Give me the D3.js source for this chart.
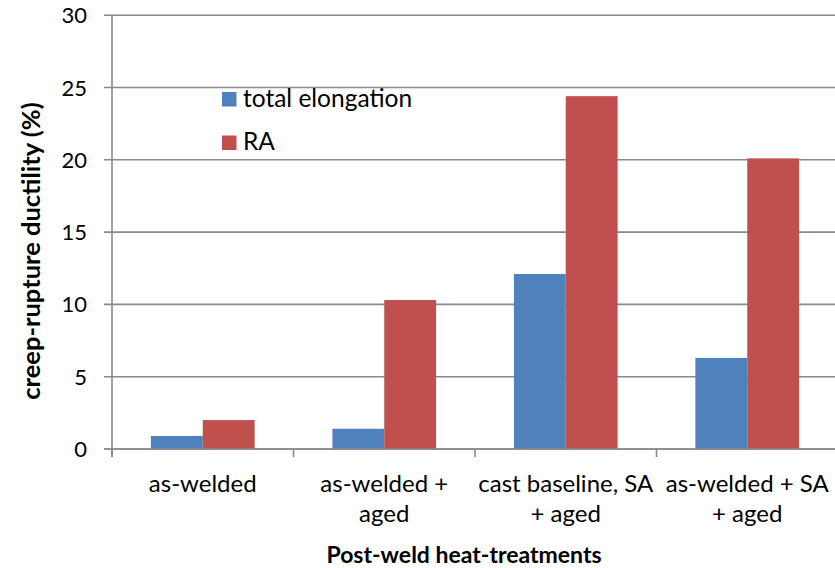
<!DOCTYPE html>
<meta charset="utf-8">
<head>
<style>
body { margin: 0; background: #fff; }
text { font-family: Lato, "Open Sans", sans-serif; fill: #000; }
</style>
<script src="https://d3js.org/d3.v7.min.js"></script>
</head>
<body>
<div id="chart"></div>
<script>
var categories = ["as-welded", "as-welded +\naged", "cast baseline, SA\n+ aged", "as-welded + SA\n+ aged"];
var seriesNames = ["total elongation", "RA"];
var elongation = [0.9, 1.4, 12.1, 6.3];
var reductionArea = [2.0, 10.3, 24.4, 20.1];
var yTicks = [0, 5, 10, 15, 20, 25, 30];
var colors = ["#4F81BD", "#C0504D"];

var width = 835,
    height = 568,
    plotLeft = 112,
    plotRight = 838,
    plotTop = 15.2,
    plotBottom = 449;

var svg = d3.select("#chart").append("svg")
    .attr("width", width)
    .attr("height", height);

var y = d3.scaleLinear().domain([0, 30]).range([plotBottom, plotTop]);
var x0 = d3.scaleBand().domain(categories).range([plotLeft, plotRight]);
var x1 = d3.scaleBand().domain(seriesNames).range([0, x0.bandwidth()]).paddingOuter(0.75);

// gridlines
svg.append("g")
    .selectAll("line")
    .data(yTicks)
    .enter().append("line")
    .attr("x1", plotLeft - 8)
    .attr("x2", plotRight)
    .attr("y1", function(d) { return y(d); })
    .attr("y2", function(d) { return y(d); })
    .attr("stroke", "#8a8a8a")
    .attr("stroke-width", 1.6);

// bars
var rows = categories.map(function(c, i) {
  return [elongation[i], reductionArea[i]];
});
var groups = svg.append("g")
    .selectAll("g")
    .data(rows)
    .enter().append("g")
    .attr("transform", function(d, i) { return "translate(" + x0(categories[i]) + ",0)"; });
groups.selectAll("rect")
    .data(function(d) { return d; })
    .enter().append("rect")
    .attr("x", function(d, j) { return x1(seriesNames[j]); })
    .attr("width", x1.bandwidth())
    .attr("y", function(d) { return y(d); })
    .attr("height", function(d) { return y(0) - y(d); })
    .attr("fill", function(d, j) { return colors[j]; });

// y axis line + x axis line
svg.append("line")
    .attr("x1", plotLeft).attr("x2", plotLeft)
    .attr("y1", plotTop).attr("y2", plotBottom + 8)
    .attr("stroke", "#8a8a8a").attr("stroke-width", 1.6);
svg.append("line")
    .attr("x1", plotLeft - 8).attr("x2", plotRight)
    .attr("y1", plotBottom).attr("y2", plotBottom)
    .attr("stroke", "#8a8a8a").attr("stroke-width", 1.6);

// category ticks
svg.append("g")
    .selectAll("line")
    .data(categories)
    .enter().append("line")
    .attr("x1", function(d) { return x0(d); })
    .attr("x2", function(d) { return x0(d); })
    .attr("y1", plotBottom)
    .attr("y2", plotBottom + 8)
    .attr("stroke", "#8a8a8a").attr("stroke-width", 1.6);

// y tick labels
svg.append("g")
    .selectAll("text")
    .data(yTicks)
    .enter().append("text")
    .attr("x", 87)
    .attr("y", function(d) { return y(d) + 8; })
    .attr("text-anchor", "end")
    .style("font-size", "22px")
    .text(function(d) { return d; });

// category labels
var catLabels = svg.append("g")
    .selectAll("text")
    .data(categories)
    .enter().append("text")
    .attr("text-anchor", "middle")
    .style("font-size", "24px")
    .attr("transform", function(d) { return "translate(" + (x0(d) + x0.bandwidth() / 2) + ",492)"; });
catLabels.selectAll("tspan")
    .data(function(d) { return d.split("\n"); })
    .enter().append("tspan")
    .attr("x", 0)
    .attr("y", function(d, i) { return i * 30; })
    .text(function(d) { return d; });

// axis titles
svg.append("text")
    .attr("x", 464)
    .attr("y", 563)
    .attr("text-anchor", "middle")
    .style("font-size", "23px")
    .style("font-weight", "bold")
    .text("Post-weld heat-treatments");

svg.append("text")
    .attr("transform", "translate(39.5,251) rotate(-90)")
    .attr("text-anchor", "middle")
    .style("font-size", "25.5px")
    .style("font-weight", "bold")
    .text("creep-rupture ductility (%)");

// legend
var legend = svg.append("g")
    .selectAll("g")
    .data(seriesNames)
    .enter().append("g")
    .attr("transform", function(d, i) { return "translate(222," + (92 + i * 43.5) + ")"; });
legend.append("rect")
    .attr("width", 14.5)
    .attr("height", 14.5)
    .attr("fill", function(d, i) { return colors[i]; });
legend.append("text")
    .attr("x", 21)
    .attr("y", 14.7)
    .style("font-size", "24.5px")
    .text(function(d) { return d; });
</script>
</body>
